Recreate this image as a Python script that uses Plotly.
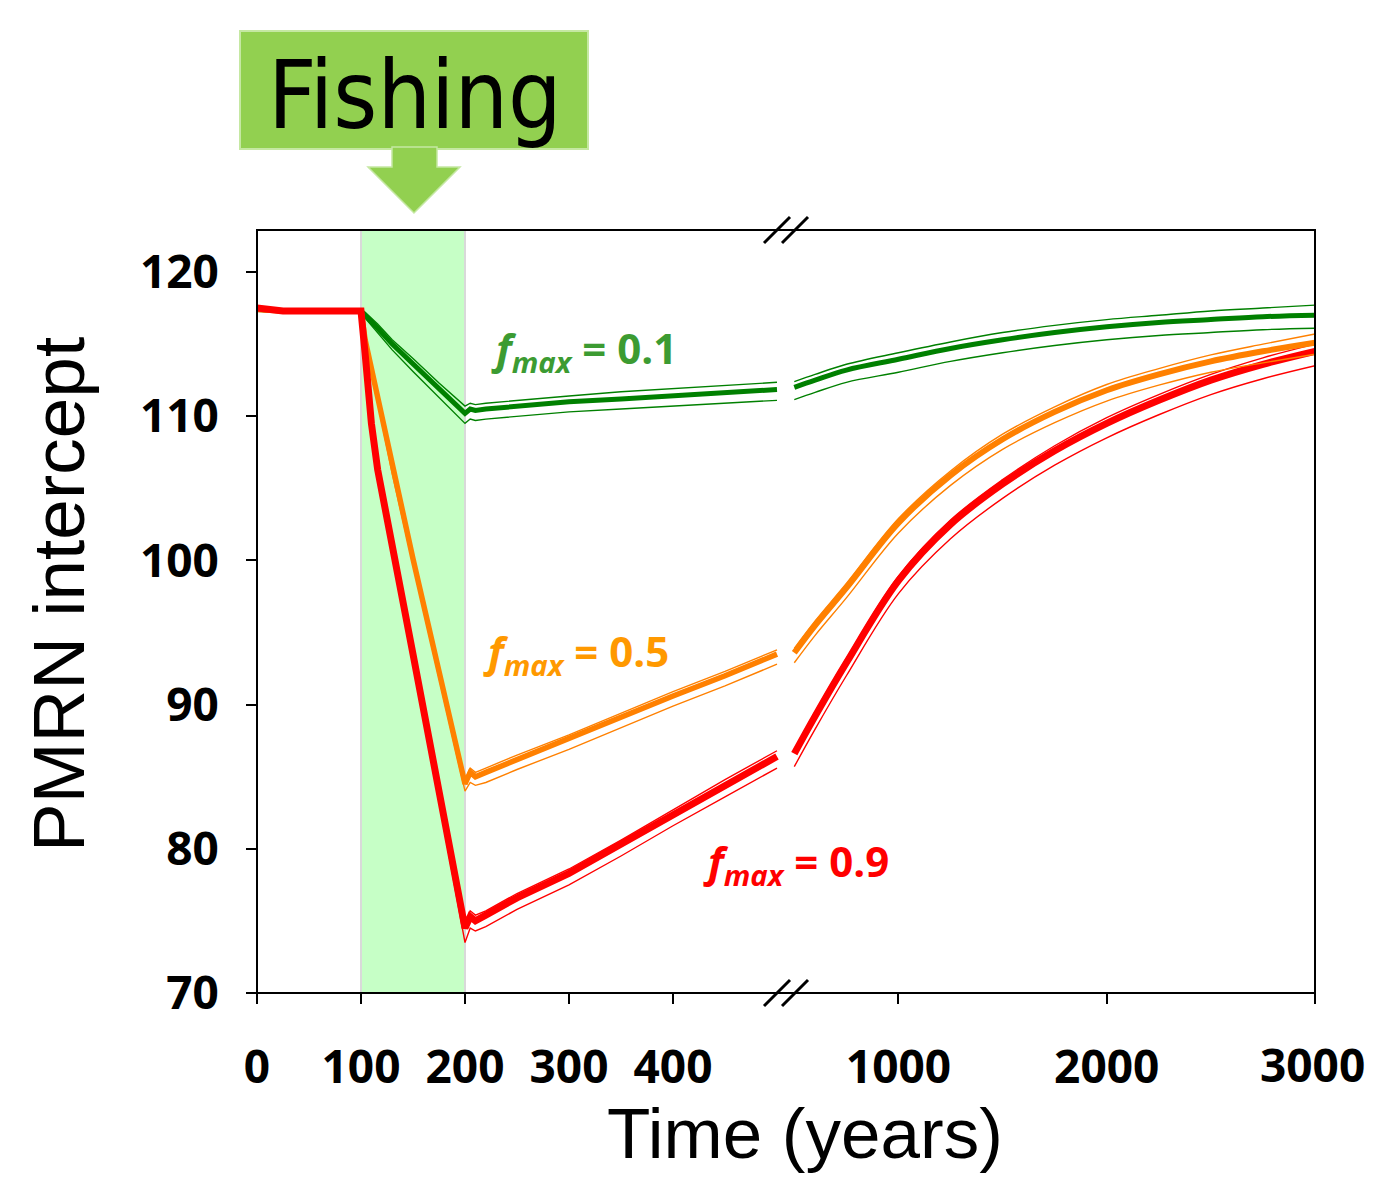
import plotly.graph_objects as go

# ---------------- data ----------------
yrs_L = [0, 25, 50, 75, 100, 104, 110, 116, 130, 150, 175, 200, 205, 210, 220, 250, 300, 350, 400, 450, 500]
green_L    = [117.4, 117.3, 117.3, 117.3, 117.3, 117.0, 116.6, 116.1, 115.0, 113.6, 111.9, 110.2, 110.5, 110.4, 110.5, 110.7, 111.0, 111.2, 111.4, 111.6, 111.85]
green_L_hi = [117.5, 117.4, 117.4, 117.4, 117.4, 117.2, 116.8, 116.4, 115.3, 114.0, 112.3, 110.7, 110.9, 110.8, 110.9, 111.1, 111.4, 111.7, 111.9, 112.1, 112.35]
green_L_lo = [117.3, 117.2, 117.2, 117.2, 117.2, 116.8, 116.3, 115.8, 114.6, 113.1, 111.3, 109.5, 109.8, 109.7, 109.8, 110.0, 110.3, 110.5, 110.7, 110.9, 111.1]

orange_L    = [117.4, 117.3, 117.3, 117.3, 117.3, 115.3, 113.3, 111.4, 106.4, 100.1, 92.3, 84.5, 85.3, 85.0, 85.3, 86.2, 87.6, 89.1, 90.6, 92.0, 93.5]
orange_L_hi = [117.5, 117.4, 117.4, 117.4, 117.4, 115.6, 113.6, 111.7, 106.7, 100.4, 92.6, 84.8, 85.6, 85.3, 85.6, 86.5, 87.9, 89.4, 90.9, 92.3, 93.8]
orange_L_lo = [117.3, 117.2, 117.2, 117.2, 117.2, 115.0, 113.0, 111.0, 106.0, 99.7, 91.9, 84.0, 84.6, 84.4, 84.6, 85.5, 86.9, 88.4, 89.9, 91.3, 92.8]

red_L    = [117.5, 117.3, 117.3, 117.3, 117.3, 114.3, 109.5, 106.3, 101.2, 93.5, 84.0, 74.5, 75.3, 75.0, 75.4, 76.6, 78.3, 80.3, 82.4, 84.4, 86.4]
red_L_hi = [117.6, 117.4, 117.4, 117.4, 117.4, 114.6, 109.8, 106.6, 101.5, 93.8, 84.3, 74.8, 75.7, 75.4, 75.7, 76.9, 78.6, 80.6, 82.7, 84.8, 86.8]
red_L_lo = [117.4, 117.2, 117.2, 117.2, 117.2, 113.9, 109.0, 105.8, 100.6, 92.8, 83.3, 73.5, 74.5, 74.3, 74.6, 75.8, 77.5, 79.5, 81.6, 83.6, 85.6]

yrs_R = [500, 600, 750, 1000, 1250, 1500, 1750, 2000, 2250, 2500, 2750, 3000]
green_R    = [112.0, 112.5, 113.2, 113.95, 114.7, 115.3, 115.8, 116.2, 116.5, 116.7, 116.9, 117.0]
green_R_hi = [112.4, 112.9, 113.6, 114.4, 115.15, 115.8, 116.3, 116.7, 117.0, 117.3, 117.5, 117.7]
green_R_lo = [111.15, 111.65, 112.35, 113.05, 113.8, 114.4, 114.9, 115.3, 115.6, 115.8, 116.0, 116.1]

orange_R    = [93.6, 95.5, 98.1, 102.6, 105.9, 108.4, 110.3, 111.8, 112.9, 113.8, 114.5, 115.1]
orange_R_hi = [93.9, 95.8, 98.4, 102.9, 106.2, 108.75, 110.65, 112.2, 113.3, 114.25, 115.0, 115.7]
orange_R_lo = [92.9, 94.8, 97.4, 101.9, 105.2, 107.7, 109.55, 111.05, 112.15, 113.05, 113.7, 114.3]

red_R    = [86.6, 89.2, 92.9, 98.6, 102.5, 105.3, 107.6, 109.5, 111.1, 112.5, 113.6, 114.5]
red_R_hi = [86.9, 89.5, 93.2, 98.9, 102.8, 105.6, 107.95, 109.9, 111.5, 112.9, 114.05, 115.0]
red_R_lo = [85.7, 88.3, 92.0, 97.7, 101.5, 104.3, 106.6, 108.5, 110.1, 111.5, 112.6, 113.5]

ticks_L = [0, 100, 200, 300, 400]
ticks_R = [1000, 2000, 3000]
ticks_Y = [70, 80, 90, 100, 110, 120]
fishing_period = [100, 200]

# ---------------- layout geometry (page pixels) ----------------
OFF = 8                       # default body margin of the html page
W, H = 1374 - 2 * OFF, 1181 - 2 * OFF
L, R, T, B = 257, 1315, 230, 993
BRK = 786  # page pixel of the axis break


def px_x(p):
    return (p - L) / (R - L)


def px_y(p):
    return (B - p) / (B - T)


GREEN, ORANGE, RED = "#008000", "#FF8000", "#FF0000"

fig = go.Figure()


def add_series(x, mean, hi, lo, color, wmean, xa, shape):
    for ys, w in ((hi, 1.4), (lo, 1.4), (mean, wmean)):
        fig.add_trace(go.Scatter(x=x, y=ys, mode="lines", xaxis=xa, yaxis="y",
                                 line=dict(color=color, width=w, shape=shape),
                                 hoverinfo="skip", showlegend=False))


add_series(yrs_L, green_L, green_L_hi, green_L_lo, GREEN, 5, "x", "linear")
add_series(yrs_L, orange_L, orange_L_hi, orange_L_lo, ORANGE, 5.5, "x", "linear")
add_series(yrs_L, red_L, red_L_hi, red_L_lo, RED, 7, "x", "linear")

add_series(yrs_R, red_R, red_R_hi, red_R_lo, RED, 7, "x2", "spline")
add_series(yrs_R, orange_R, orange_R_hi, orange_R_lo, ORANGE, 6, "x2", "spline")
add_series(yrs_R, green_R, green_R_hi, green_R_lo, GREEN, 5, "x2", "spline")

tickfont = dict(family="Open Sans", size=46, color="black", weight="bold")
d_split = px_x(BRK)

# the last tick label sits at the very page edge: it is written as an annotation below
ticktext_R = [str(v) for v in ticks_R[:-1]] + [""]

fig.update_layout(
    width=W, height=H, autosize=False,
    margin=dict(l=L - OFF, r=(W + OFF) - R, t=T - OFF, b=(H + OFF) - B, pad=0),
    paper_bgcolor="white", plot_bgcolor="white",
    showlegend=False,
    xaxis=dict(domain=[0, d_split], range=[0, (BRK - L) / 1.04], anchor="y",
               tickvals=ticks_L, ticktext=[str(v) for v in ticks_L],
               ticks="outside", ticklen=10, tickwidth=2, tickcolor="black",
               showline=False, showgrid=False, zeroline=False,
               tickfont=tickfont, ticklabelstandoff=24),
    xaxis2=dict(domain=[d_split, 1], range=[1000 - (898.5 - BRK) / 0.2084, 3000], anchor="y",
                tickvals=ticks_R, ticktext=ticktext_R,
                ticks="outside", ticklen=10, tickwidth=2, tickcolor="black",
                showline=False, showgrid=False, zeroline=False,
                tickfont=tickfont, ticklabelstandoff=24),
    yaxis=dict(range=[70, 70 + (B - T) / 14.42], anchor="x",
               tickvals=ticks_Y, ticktext=[str(v) for v in ticks_Y],
               ticks="outside", ticklen=10, tickwidth=2, tickcolor="black",
               showline=False, showgrid=False, zeroline=False,
               tickfont=tickfont, ticklabelstandoff=18),
)

shapes = []
# fishing period shading
shapes.append(dict(type="rect", xref="x", yref="paper", x0=fishing_period[0], x1=fishing_period[1],
                   y0=0, y1=1, fillcolor="#C6FFC6", line=dict(color="#D9D9D9", width=2), layer="below"))
# frame
shapes.append(dict(type="rect", xref="paper", yref="paper", x0=0, x1=1, y0=0, y1=1,
                   line=dict(color="black", width=2), layer="above"))
# break marks (top and bottom)
for yc in (T, B):
    for dx in (-9, 9):
        cx = BRK + dx
        shapes.append(dict(type="line", xref="paper", yref="paper",
                           x0=px_x(cx - 13), y0=px_y(yc + 13), x1=px_x(cx + 13), y1=px_y(yc - 13),
                           line=dict(color="black", width=3), layer="above"))
# Fishing box and arrow
shapes.append(dict(type="rect", xref="paper", yref="paper",
                   x0=px_x(240), x1=px_x(588), y0=px_y(149), y1=px_y(31),
                   fillcolor="#92D050", line=dict(color="#C5E8A2", width=2), layer="above"))
arrow_pts = [(392, 147), (437, 147), (437, 167), (460, 167), (414, 213), (368, 167), (392, 167)]
path = "M " + " L ".join(f"{px_x(a):.5f},{px_y(b):.5f}" for a, b in arrow_pts) + " Z"
shapes.append(dict(type="path", xref="paper", yref="paper", path=path,
                   fillcolor="#92D050", line=dict(color="#C5E8A2", width=1.5), layer="above"))
fig.update_layout(shapes=shapes)

ann = []
ann.append(dict(text=str(ticks_R[-1]), xref="paper", yref="paper", x=px_x(1366), y=px_y(1064),
                xanchor="right", yanchor="middle", showarrow=False, borderpad=0,
                font=tickfont))
ann.append(dict(text="Fishing", xref="paper", yref="paper", x=px_x(415), y=px_y(96),
                xanchor="center", yanchor="middle", showarrow=False,
                font=dict(family="DejaVu Sans Condensed, Liberation Sans", size=94, color="black")))
ann.append(dict(text="PMRN intercept", xref="paper", yref="paper", x=px_x(58), y=px_y(595),
                xanchor="center", yanchor="middle", showarrow=False, textangle=-90,
                font=dict(family="Liberation Sans, Arial", size=73, color="black")))
ann.append(dict(text="Time (years)", xref="paper", yref="paper", x=px_x(805), y=px_y(1133),
                xanchor="center", yanchor="middle", showarrow=False,
                font=dict(family="Liberation Sans, Arial", size=71, color="black")))

labels = [("0.1", "#3C9B32", 584, 350), ("0.5", "#FF9900", 576, 653), ("0.9", "#FF0000", 796, 863)]
for val, col, cx, cy in labels:
    ann.append(dict(text=f"<b><i>f</i></b><sub><b><i>max</i></b></sub><b> = {val}</b>",
                    xref="paper", yref="paper", x=px_x(cx), y=px_y(cy),
                    xanchor="center", yanchor="middle", showarrow=False,
                    font=dict(family="Open Sans", size=42, color=col)))
fig.update_layout(annotations=ann)

fig.write_html("out.html")
